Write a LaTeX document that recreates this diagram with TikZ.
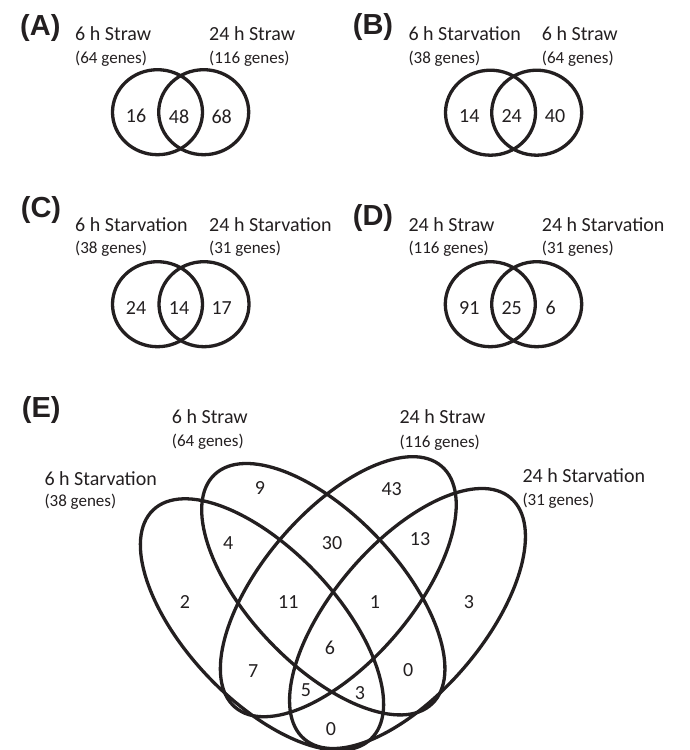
\documentclass[tikz,border=0pt]{standalone}
\usepackage{fontspec}
\setmainfont{Carlito}
\newfontfamily\panelfont{Liberation Sans}
\definecolor{ink}{HTML}{231F20}
\begin{document}
\begin{tikzpicture}[x=1pt,y=-1pt,
  set/.style={draw=ink,line width=3.3pt},
  lab/.style={anchor=base west,inner sep=0pt,text=ink,font=\fontsize{20}{22}\selectfont},
  cnt/.style={anchor=base west,inner sep=0pt,text=ink,font=\fontsize{17}{19}\selectfont},
  num/.style={anchor=center,inner sep=0pt,text=ink,font=\fontsize{20}{22}\selectfont},
  panel/.style={anchor=base west,inner sep=0pt,text=ink,font=\panelfont\bfseries\fontsize{29}{31}\selectfont}]
\useasboundingbox (0,0) rectangle (689,750);
% ---------- (A)
\node[panel] (pA) at (20,35) {(A)};
\node[lab] (aL) at (75,40.7) {6 h Straw};
\node[cnt] (aLc) at (75,63.3) {(64 genes)};
\node[lab] (aR) at (209,40.7) {24 h Straw};
\node[cnt] (aRc) at (209,63.3) {(116 genes)};
\draw[set] (157.5,112.2) ellipse [x radius=45, y radius=42.5];
\draw[set] (203.7,112.2) ellipse [x radius=45, y radius=42.5];
\node[num] (a1) at (136,116.3) {16};
\node[num] (a2) at (179,116.3) {48};
\node[num] (a3) at (221.7,116.3) {68};
% ---------- (B)
\node[panel] (pB) at (352.7,34) {(B)};
\node[lab] (bL) at (408.3,40.7) {6 h Starvation};
\node[cnt] (bLc) at (408.3,63.3) {(38 genes)};
\node[lab] (bR) at (541.7,40.7) {6 h Straw};
\node[cnt] (bRc) at (541.7,63.3) {(64 genes)};
\draw[set] (490.5,112.7) ellipse [x radius=45, y radius=42.5];
\draw[set] (536.7,112.7) ellipse [x radius=45, y radius=42.5];
\node[num] (b1) at (469.3,116.3) {14};
\node[num] (b2) at (511.7,116.3) {24};
\node[num] (b3) at (555,116.3) {40};
% ---------- (C)
\node[panel] (pC) at (20.7,217.5) {(C)};
\node[lab] (cL) at (75,231.7) {6 h Starvation};
\node[cnt] (cLc) at (75,253.5) {(38 genes)};
\node[lab] (cR) at (209,231.7) {24 h Starvation};
\node[cnt] (cRc) at (209,253.5) {(31 genes)};
\draw[set] (157.5,304.2) ellipse [x radius=45, y radius=42.5];
\draw[set] (204,304.2) ellipse [x radius=45, y radius=42.5];
\node[num] (c1) at (136,308.3) {24};
\node[num] (c2) at (179,308.3) {14};
\node[num] (c3) at (221.7,308.3) {17};
% ---------- (D)
\node[panel] (pD) at (352.7,225) {(D)};
\node[lab] (dL) at (408.3,231.7) {24 h Straw};
\node[cnt] (dLc) at (408.3,253.5) {(116 genes)};
\node[lab] (dR) at (541.7,231.7) {24 h Starvation};
\node[cnt] (dRc) at (541.7,253.5) {(31 genes)};
\draw[set] (490.3,304.2) ellipse [x radius=45, y radius=42.5];
\draw[set] (536.7,304.2) ellipse [x radius=45, y radius=42.5];
\node[num] (d1) at (469.3,308.3) {91};
\node[num] (d2) at (511.7,308.3) {25};
\node[num] (d3) at (550.7,308.3) {6};
% ---------- (E)
\node[panel] (pE) at (21.7,417) {(E)};
\node[lab] (eB) at (171.7,423.3) {6 h Straw};
\node[cnt] (eBc) at (171.7,446.7) {(64 genes)};
\node[lab] (eC) at (399.3,423.3) {24 h Straw};
\node[cnt] (eCc) at (399.3,447) {(116 genes)};
\node[lab] (eA) at (44.3,485) {6 h Starvation};
\node[cnt] (eAc) at (44.3,506) {(38 genes)};
\node[lab] (eD) at (522.3,482.7) {24 h Starvation};
\node[cnt] (eDc) at (522.3,505) {(31 genes)};
\draw[set,rotate around={-46.5:(262,624.5)}] (262,624.5) ellipse [x radius=158, y radius=75];
\draw[set,rotate around={-46.5:(323.3,589.2)}] (323.3,589.2) ellipse [x radius=158, y radius=75];
\draw[set,rotate around={49.4:(338.3,586.7)}] (338.3,586.7) ellipse [x radius=158.7, y radius=75];
\draw[set,rotate around={49.4:(407.5,618.5)}] (407.5,618.5) ellipse [x radius=158.7, y radius=75];
\node[num] (e9) at (260,488.3) {9};
\node[num] (e43) at (391.7,489.3) {43};
\node[num] (e4) at (228.3,543.3) {4};
\node[num] (e30) at (332,543.3) {30};
\node[num] (e13) at (420,539) {13};
\node[num] (e2) at (185,601.7) {2};
\node[num] (e11) at (288.3,601.7) {11};
\node[num] (e1) at (375,602.3) {1};
\node[num] (e3a) at (469,602.3) {3};
\node[num] (e6) at (330,648.3) {6};
\node[num] (e7) at (253.3,671) {7};
\node[num] (e0a) at (408.3,670) {0};
\node[num] (e5) at (306,690) {5};
\node[num] (e3b) at (360,692.7) {3};
\node[num] (e0b) at (331,729.3) {0};
\end{tikzpicture}
\end{document}
